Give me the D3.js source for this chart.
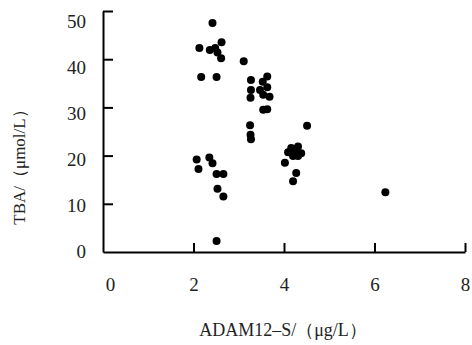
<!DOCTYPE html>
<html>
<head>
<meta charset="utf-8">
<script src="https://cdn.jsdelivr.net/npm/d3@7"></script>
<style>
  body { margin: 0; background: #fff; }
  svg { display: block; font-family: "Liberation Serif", "Times New Roman", serif; }
</style>
</head>
<body>
<div id="chart"></div>
<script>
// ADAM12-S (ug/L) vs TBA (umol/L)
const adam = [2.42, 2.13, 2.62, 2.36, 2.48, 2.53, 2.61, 3.11, 2.17, 2.51,
  3.27, 3.27, 3.26, 3.63, 3.53, 3.63, 3.47, 3.54, 3.68, 3.54, 3.63,
  3.25, 3.26, 3.27, 4.51,
  4.16, 4.31, 4.38, 4.20, 4.02, 4.27, 4.20, 4.24, 4.31, 4.09,
  2.07, 2.35, 2.42, 2.11, 2.51, 2.66, 2.53, 2.66, 2.51, 6.24];
const tba = [47.5, 42.3, 43.5, 41.9, 42.3, 41.4, 40.2, 39.6, 36.3, 36.3,
  35.7, 33.6, 32.0, 36.4, 35.3, 34.2, 33.6, 32.6, 32.2, 29.5, 29.6,
  26.3, 24.3, 23.4, 26.2,
  21.6, 21.9, 20.5, 19.9, 18.5, 16.4, 14.7, 20.9, 19.9, 20.7,
  19.2, 19.6, 18.4, 17.2, 16.2, 16.2, 13.1, 11.5, 2.3, 12.4];
const xTicks = [0, 2, 4, 6, 8];
const yTicks = [0, 10, 20, 30, 40, 50];
const xTitle = "ADAM12–S/（μg/L）";
const yTitle = "TBA/（μmol/L）";

const width = 472, height = 345;
const svg = d3.select('#chart').append('svg')
  .attr('width', width)
  .attr('height', height);

const x = d3.scaleLinear().domain([0, 8]).range([103, 465]);
const y = d3.scaleLinear().domain([0, 50]).range([252, 11]);
// the printed y labels are spaced a little tighter than the ticks
const yLab = d3.scaleLinear().domain([0, 50]).range([251, 21.5]);

const xAxis = svg.append('g')
  .attr('transform', `translate(0,${y(0)})`)
  .call(d3.axisBottom(x).tickValues(xTicks).tickSize(-9).tickSizeOuter(0).tickPadding(26));
const yAxis = svg.append('g')
  .attr('transform', `translate(${x(0)},0)`)
  .call(d3.axisLeft(y).tickValues(yTicks).tickSize(-10).tickSizeOuter(0).tickPadding(17));

[xAxis, yAxis].forEach(g => {
  g.attr('font-family', '"Liberation Serif", serif').attr('font-size', 19);
  g.selectAll('path, line').attr('stroke', '#000').attr('stroke-width', 2);
  g.selectAll('text').attr('fill', '#222');
});
xAxis.selectAll('.tick').filter(d => d === 0).select('line').remove();
xAxis.selectAll('.tick').filter(d => d === 0).select('text').attr('dx', 7);
yAxis.selectAll('.tick').filter(d => d === 0).select('line').remove();
yAxis.selectAll('.tick text').attr('transform', d => `translate(0,${yLab(d) - y(d)})`);

svg.selectAll('circle.pt')
  .data(adam.map((a, i) => ({ a: a, t: tba[i] })))
  .enter()
  .append('circle')
  .attr('class', 'pt')
  .attr('cx', d => x(d.a))
  .attr('cy', d => y(d.t))
  .attr('r', 4)
  .attr('fill', '#000');

svg.append('text')
  .attr('x', 283)
  .attr('y', 336)
  .attr('text-anchor', 'middle')
  .style('font-size', '18px')
  .attr('fill', '#222')
  .text(xTitle);

svg.append('text')
  .attr('transform', 'translate(25,163) rotate(-90)')
  .attr('text-anchor', 'middle')
  .style('font-size', '17px')
  .attr('fill', '#222')
  .text(yTitle);
</script>
</body>
</html>
